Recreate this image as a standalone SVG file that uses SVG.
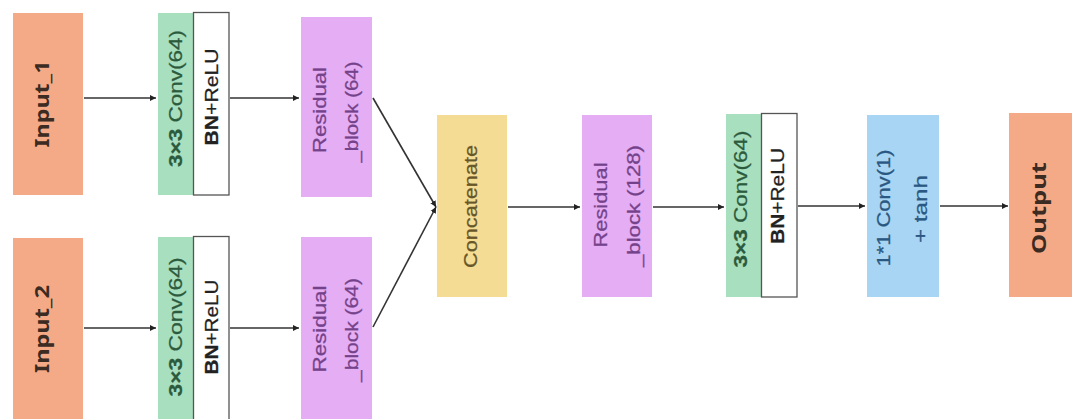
<svg xmlns="http://www.w3.org/2000/svg" width="1072" height="419" viewBox="0 0 1072 419">
<defs>
<marker id="ah" markerUnits="userSpaceOnUse" markerWidth="7" markerHeight="7" refX="6" refY="3.5" orient="auto">
<path d="M0,0.5 L6,3.5 L0,6.5 Z" fill="#222"/>
</marker>
<style>
.orange{fill:#F4AA86}
.green{fill:#A8DFBF}
.white{fill:#ffffff;stroke:#555;stroke-width:1.3}
.purple{fill:#E5ADF4}
.yellow{fill:#F4DC94}
.blue{fill:#A8D5F3}
.io{font-family:"Noto Sans","Liberation Sans",sans-serif;font-weight:bold;font-size:19px;fill:#3b2b22}
.t{font-family:"Liberation Sans",Arial,sans-serif;font-size:17.5px;stroke-width:0.25}
.gt{fill:#2c5a3c;stroke:#2c5a3c}
.bt{fill:#222;stroke:#222}
.pt{fill:#74428a;stroke:#74428a}
.yt{fill:#665628;stroke:#665628}
.lt{fill:#2a5882;stroke:#2a5882}
.b{font-weight:bold}
.con{stroke:#333;stroke-width:1.6;fill:none;marker-end:url(#ah)}
</style>
</defs>
<rect width="1072" height="419" fill="#ffffff"/>

<g id="input1">
<rect class="orange" x="13" y="13" width="70" height="182"/>
<text class="io" transform="translate(49,104) rotate(-90)" text-anchor="middle" textLength="87" lengthAdjust="spacingAndGlyphs">Input_1</text>
</g>
<g id="input2">
<rect class="orange" x="13" y="238" width="70" height="190"/>
<text class="io" transform="translate(49,329) rotate(-90)" text-anchor="middle" textLength="88" lengthAdjust="spacingAndGlyphs">Input_2</text>
</g>

<g id="conv1">
<rect class="green" x="158" y="13" width="36" height="182"/>
<rect class="white" x="193.5" y="12.5" width="35.5" height="182.5"/>
<text class="t gt" transform="translate(182,98.5) rotate(-90)" text-anchor="middle" textLength="137" lengthAdjust="spacingAndGlyphs"><tspan class="b">3×3</tspan> Conv(64)</text>
<text class="t bt" transform="translate(218,97) rotate(-90)" text-anchor="middle" textLength="97" lengthAdjust="spacingAndGlyphs"><tspan class="b">BN</tspan>+ReLU</text>
</g>
<g id="conv2">
<rect class="green" x="158" y="237" width="36" height="190"/>
<rect class="white" x="193.5" y="236.5" width="35.5" height="190"/>
<text class="t gt" transform="translate(182,327) rotate(-90)" text-anchor="middle" textLength="139" lengthAdjust="spacingAndGlyphs"><tspan class="b">3×3</tspan> Conv(64)</text>
<text class="t bt" transform="translate(218,327) rotate(-90)" text-anchor="middle" textLength="95" lengthAdjust="spacingAndGlyphs"><tspan class="b">BN</tspan>+ReLU</text>
</g>

<g id="res1">
<rect class="purple" x="301" y="17" width="71" height="180"/>
<text class="t pt" transform="translate(326,110) rotate(-90)" text-anchor="middle" textLength="86" lengthAdjust="spacingAndGlyphs">Residual</text>
<text class="t pt" transform="translate(358,112) rotate(-90)" text-anchor="middle" textLength="101" lengthAdjust="spacingAndGlyphs">_block (64)</text>
</g>
<g id="res2">
<rect class="purple" x="301" y="237" width="71" height="190"/>
<text class="t pt" transform="translate(326,329) rotate(-90)" text-anchor="middle" textLength="87" lengthAdjust="spacingAndGlyphs">Residual</text>
<text class="t pt" transform="translate(358,330) rotate(-90)" text-anchor="middle" textLength="104" lengthAdjust="spacingAndGlyphs">_block (64)</text>
</g>

<g id="concat">
<rect class="yellow" x="437" y="115" width="70" height="182"/>
<text class="t yt" transform="translate(477,206.5) rotate(-90)" text-anchor="middle" textLength="123" lengthAdjust="spacingAndGlyphs">Concatenate</text>
</g>

<g id="res128">
<rect class="purple" x="582" y="115" width="70" height="182"/>
<text class="t pt" transform="translate(607,205) rotate(-90)" text-anchor="middle" textLength="85" lengthAdjust="spacingAndGlyphs">Residual</text>
<text class="t pt" transform="translate(640,206) rotate(-90)" text-anchor="middle" textLength="122" lengthAdjust="spacingAndGlyphs">_block (128)</text>
</g>

<g id="conv3">
<rect class="green" x="726" y="114" width="36" height="183"/>
<rect class="white" x="761.5" y="113.5" width="35.5" height="183.5"/>
<text class="t gt" transform="translate(747,199) rotate(-90)" text-anchor="middle" textLength="137" lengthAdjust="spacingAndGlyphs"><tspan class="b">3×3</tspan> Conv(64)</text>
<text class="t bt" transform="translate(784,196) rotate(-90)" text-anchor="middle" textLength="96" lengthAdjust="spacingAndGlyphs"><tspan class="b">BN</tspan>+ReLU</text>
</g>

<g id="conv1x1">
<rect class="blue" x="867" y="115" width="72" height="182"/>
<text class="t lt" transform="translate(890,208) rotate(-90)" text-anchor="middle" textLength="117" lengthAdjust="spacingAndGlyphs">1*1 Conv(1)</text>
<text class="t lt" transform="translate(927,209) rotate(-90)" text-anchor="middle" textLength="68" lengthAdjust="spacingAndGlyphs">+ tanh</text>
</g>

<g id="output">
<rect class="orange" x="1009" y="113" width="70" height="184"/>
<text class="io" transform="translate(1046,208) rotate(-90)" text-anchor="middle" textLength="92" lengthAdjust="spacingAndGlyphs">Output</text>
</g>

<g id="connectors">
<line class="con" x1="84" y1="98" x2="156" y2="98"/>
<line class="con" x1="230" y1="98" x2="299" y2="98"/>
<line class="con" x1="84" y1="328" x2="156" y2="328"/>
<line class="con" x1="230" y1="328" x2="299" y2="328"/>
<line class="con" x1="373" y1="98" x2="436" y2="207"/>
<line class="con" x1="373" y1="327" x2="436" y2="207"/>
<line class="con" x1="508" y1="207" x2="580" y2="207"/>
<line class="con" x1="653" y1="207" x2="724" y2="207"/>
<line class="con" x1="798" y1="206" x2="865" y2="206"/>
<line class="con" x1="940" y1="206" x2="1008" y2="206"/>
</g>
</svg>
